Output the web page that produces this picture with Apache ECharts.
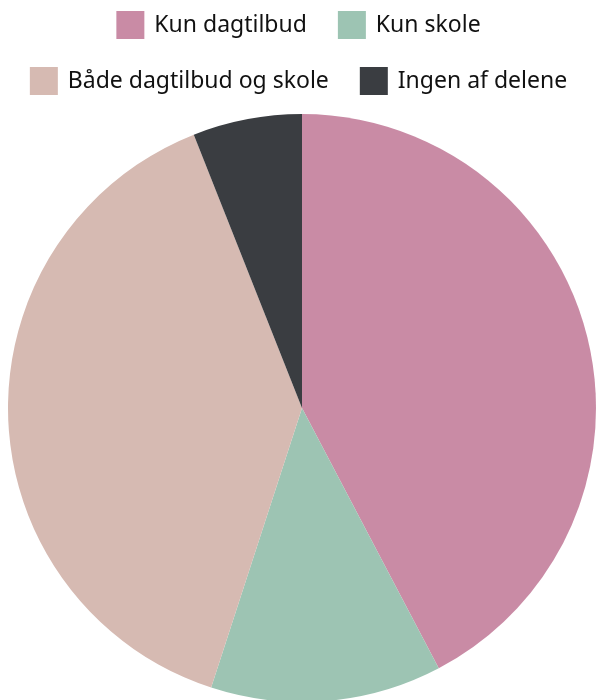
<!DOCTYPE html>
<html>
<head>
<meta charset="utf-8">
<script src="https://cdn.jsdelivr.net/npm/echarts@6/dist/echarts.min.js"></script>
<style>
  html, body { margin: 0; padding: 0; background: #fff; }
  #chartBox { width: 597px; height: 700px; }
</style>
</head>
<body>
<div id="chartBox"></div>
<script>
  // andele i procent
  var categories = ['Kun dagtilbud', 'Kun skole', 'Både dagtilbud og skole', 'Ingen af delene'];
  var values = [42.3, 12.7, 39.0, 6.0];
  var colors = ['#C98BA5', '#9DC4B3', '#D6BAB2', '#3A3D41'];

  var pieData = categories.map(function (name, i) {
    return { name: name, value: values[i], itemStyle: { color: colors[i] } };
  });

  var legendText = {
    fontFamily: 'Noto Sans',
    fontSize: 23,
    color: '#111',
    padding: [0, 0, 0, 5]
  };

  var chart = echarts.init(document.getElementById('chartBox'));
  chart.setOption({
    animation: false,
    legend: [
      {
        data: categories.slice(0, 2),
        top: 6,
        left: 'center',
        icon: 'rect',
        itemWidth: 28,
        itemHeight: 28,
        itemGap: 31,
        textStyle: legendText
      },
      {
        data: categories.slice(2),
        top: 62,
        left: 'center',
        icon: 'rect',
        itemWidth: 28,
        itemHeight: 28,
        itemGap: 31,
        textStyle: legendText
      }
    ],
    series: [
      {
        type: 'pie',
        center: [302, 408],
        radius: 294,
        startAngle: 90,
        clockwise: true,
        label: { show: false },
        labelLine: { show: false },
        emphasis: { disabled: true },
        data: pieData
      }
    ]
  });
</script>
</body>
</html>
